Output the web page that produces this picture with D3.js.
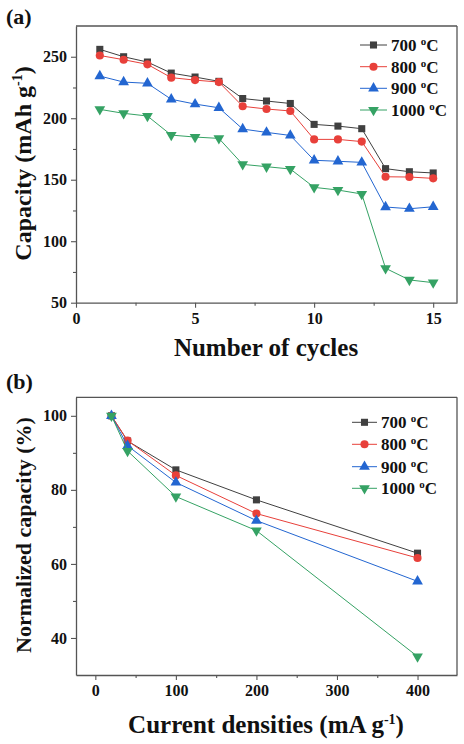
<!DOCTYPE html>
<html><head><meta charset="utf-8">
<script src="https://cdn.jsdelivr.net/npm/d3@7"></script>
<style>
html,body{margin:0;padding:0;background:#fff;}
svg text{font-family:"Liberation Serif","Times New Roman",serif;font-weight:bold;fill:#111;}
</style></head>
<body>
<svg id="c" width="464" height="744"></svg>
<script>
// ---- data ----
const seriesNames = ["700", "800", "900", "1000"];
const seriesColors = ["#404040", "#e8403a", "#2366d1", "#35a264"];
const seriesSymbols = ["square", "circle", "triangle", "triangleDown"];

const cycles = [1,2,3,4,5,6,7,8,9,10,11,12,13,14,15];
const cap700  = [256,250,245.7,236.7,233.5,230,216,214,212,195,193.6,191.5,159,156.5,155.5];
const cap800  = [251,247.6,243.8,233,231,229.4,209.7,207.5,205.9,182.8,182.8,181,152.4,152.2,151.1];
const cap900  = [234.3,229.4,228.4,215.4,211.5,208.5,191.2,188.5,186,165.8,165,164.1,127.8,126.4,128];
const cap1000 = [207.2,204,201.8,186.3,184.7,183.6,162.5,160.6,158.7,143.8,141.6,138.4,78,68.5,66.3];

const currents = [20,40,100,200,400];
const norm700  = [100,93.2,85.4,77.3,62.9];
const norm800  = [100,93.3,83.9,73.6,61.6];
const norm900  = [100,91.9,82,71.7,55.3];
const norm1000 = [100,90.5,78.2,69,35];

const aXTicks = [0,5,10,15], aXMinor = [2.5,7.5,12.5];
const aYTicks = [50,100,150,200,250], aYMinor = [75,125,175,225];
const bXTicks = [0,100,200,300,400], bXMinor = [50,150,250,350];
const bYTicks = [40,60,80,100], bYMinor = [50,70,90];

// ---- drawing ----
const svg = d3.select("#c");
const symMap = {square:d3.symbolSquare, circle:d3.symbolCircle, triangle:d3.symbolTriangle, triangleDown:d3.symbolTriangle};
const symSize = {square:50, circle:52, triangle:50, triangleDown:50};

function panel(cfg){
  const g = svg.append("g");
  const x = d3.scaleLinear().domain(cfg.xDomain).range([cfg.left, cfg.right]);
  const y = d3.scaleLinear().domain(cfg.yDomain).range([cfg.bottom, cfg.top]);
  const axColor = "#555";
  // frame top/right
  g.append("line").attr("x1",cfg.left).attr("x2",cfg.right).attr("y1",cfg.top).attr("y2",cfg.top).attr("stroke",axColor).attr("stroke-width",1.3);
  g.append("line").attr("x1",cfg.right).attr("x2",cfg.right).attr("y1",cfg.top).attr("y2",cfg.bottom).attr("stroke",axColor).attr("stroke-width",1.3);
  // axes
  const xa = g.append("g").attr("transform",`translate(0,${cfg.bottom})`)
    .call(d3.axisBottom(x).tickValues(cfg.xTicks).tickSize(5).tickSizeOuter(0).tickPadding(5).tickFormat(d3.format("d")));
  g.append("g").attr("transform",`translate(0,${cfg.bottom})`)
    .call(d3.axisBottom(x).tickValues(cfg.xMinor).tickSize(3).tickFormat("")).select(".domain").remove();
  const ya = g.append("g").attr("transform",`translate(${cfg.left},0)`)
    .call(d3.axisLeft(y).tickValues(cfg.yTicks).tickSize(5).tickSizeOuter(0).tickPadding(4).tickFormat(d3.format("d")));
  g.append("g").attr("transform",`translate(${cfg.left},0)`)
    .call(d3.axisLeft(y).tickValues(cfg.yMinor).tickSize(3).tickFormat("")).select(".domain").remove();
  g.selectAll(".domain").attr("stroke",axColor).attr("stroke-width",1.3);
  g.selectAll(".tick line").attr("stroke",axColor).attr("stroke-width",1.1);
  g.selectAll(".tick text").attr("font-size",16).attr("font-family","Liberation Serif, Times New Roman, serif").attr("font-weight","bold").attr("fill","#111");

  // series
  cfg.series.forEach((vals,i)=>{
    const pts = cfg.xs.map((xv,j)=>[x(xv), y(vals[j])]);
    g.append("path").attr("d",d3.line()(pts)).attr("fill","none").attr("stroke",seriesColors[i]).attr("stroke-width",1);
    const s = seriesSymbols[i];
    g.selectAll(null).data(pts).enter().append("path")
      .attr("d",d3.symbol(symMap[s], symSize[s]))
      .attr("transform",d=>`translate(${d[0]},${d[1]})${s==="triangleDown"?" rotate(180)":""}`)
      .attr("fill",seriesColors[i]);
  });

  // legend
  seriesNames.forEach((nm,i)=>{
    const ly = cfg.legY[i];
    g.append("line").attr("x1",cfg.legX1).attr("x2",cfg.legX2).attr("y1",ly).attr("y2",ly).attr("stroke",seriesColors[i]).attr("stroke-width",1);
    const s = seriesSymbols[i];
    g.append("path").attr("d",d3.symbol(symMap[s], symSize[s]))
      .attr("transform",`translate(${(cfg.legX1+cfg.legX2)/2},${ly})${s==="triangleDown"?" rotate(180)":""}`)
      .attr("fill",seriesColors[i]);
    const t = g.append("text").attr("x",cfg.legTX).attr("y",ly+6).attr("font-size",17);
    t.append("tspan").text(nm+" ");
    t.append("tspan").text("o").attr("font-size",11).attr("dy",-6);
    t.append("tspan").text("C").attr("dy",6);
  });

  // titles
  const xt = g.append("text").attr("x",cfg.xTitleX).attr("y",cfg.xTitleY).attr("text-anchor","middle").attr("font-size",25);
  cfg.xTitle(xt);
  const yt = g.append("text").attr("transform",`translate(${cfg.yTitleX},${cfg.yTitleY}) rotate(-90)`).attr("text-anchor","middle").attr("font-size",cfg.yTitleSize);
  cfg.yTitle(yt);
  g.append("text").attr("x",6).attr("y",cfg.labelY).attr("font-size",22).text(cfg.label);
}

panel({
  xDomain:[0,16], yDomain:[50,275], left:76, right:457, top:26, bottom:302.7,
  xTicks:aXTicks, xMinor:aXMinor, yTicks:aYTicks, yMinor:aYMinor,
  xs:cycles, series:[cap700,cap800,cap900,cap1000],
  legX1:360, legX2:387, legTX:391, legY:[45,66.7,88.3,110],
  xTitleX:266, xTitleY:356, xTitle:t=>t.text("Number of cycles"),
  yTitleX:31, yTitleY:163.5, yTitleSize:24,
  yTitle:t=>{t.append("tspan").text("Capacity (mAh g");t.append("tspan").text("-1").attr("font-size",14).attr("dy",-9);t.append("tspan").text(")").attr("dy",9);},
  label:"(a)", labelY:24
});

panel({
  xDomain:[-24,449], yDomain:[30,105], left:76, right:457, top:397.3, bottom:675,
  xTicks:bXTicks, xMinor:bXMinor, yTicks:bYTicks, yMinor:bYMinor,
  xs:currents, series:[norm700,norm800,norm900,norm1000],
  legX1:352, legX2:377, legTX:381, legY:[422.3,444.3,466.7,488.3],
  xTitleX:266, xTitleY:733, xTitle:t=>{t.append("tspan").text("Current densities (mA g");t.append("tspan").text("-1").attr("font-size",14).attr("dy",-9);t.append("tspan").text(")").attr("dy",9);},
  yTitleX:31, yTitleY:535, yTitleSize:22,
  yTitle:t=>t.text("Normalized capacity (%)"),
  label:"(b)", labelY:389
});
</script>
</body></html>
